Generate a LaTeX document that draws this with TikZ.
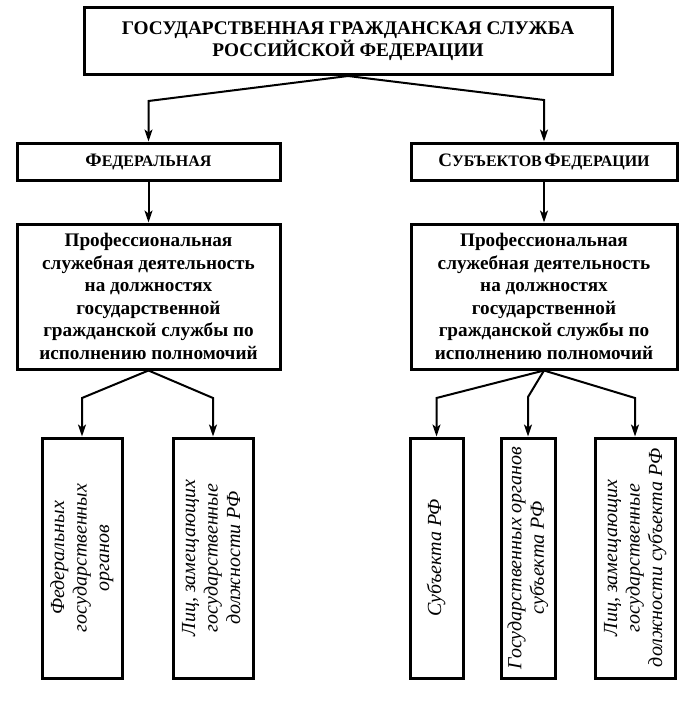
\documentclass[tikz,border=0pt]{standalone}
\usepackage{fontspec,graphicx}
\setmainfont{Liberation Serif}
\usetikzlibrary{arrows.meta}
\newcommand{\fakesc}[2]{{\fontsize{19}{21}\selectfont #1}{\fontsize{16}{19}\selectfont #2}}
\newcommand{\vtext}[1]{\rotatebox{90}{\begin{tabular}{@{}c@{}}#1\end{tabular}}}

\begin{document}
\begin{tikzpicture}[x=1pt,y=-1pt,
		box/.style={draw,line width=3pt,inner sep=0pt,align=center},
		tall/.style={box,minimum height=240pt,font=\itshape\fontsize{20}{22.5}\selectfont},
		arr/.style={line width=2pt,-{Stealth[length=12pt,width=8pt,inset=3pt]}}]
		\useasboundingbox (0,0) rectangle (694,706);
		
		\node (gs) at (348,41) [box,minimum width=528pt,minimum height=67pt,font=\bfseries\fontsize{19.3}{22}\selectfont] {ГОСУДАРСТВЕННАЯ ГРАЖДАНСКАЯ СЛУЖБА\\РОССИЙСКОЙ ФЕДЕРАЦИИ};
		\node (fed) at (148.5,161.5) [box,minimum width=263pt,minimum height=37pt,font=\bfseries] {\fakesc{Ф}{ЕДЕРАЛЬНАЯ}};
		\node (sub) at (544,161.5) [box,minimum width=266pt,minimum height=37pt,font=\bfseries] {\fakesc{С}{УБЪЕКТОВ} \fakesc{Ф}{ЕДЕРАЦИИ}};
		\node (pf) at (148.5,296.5) [box,minimum width=263pt,minimum height=145pt,font=\bfseries\fontsize{19.2}{22.5}\selectfont] {Профессиональная\\служебная деятельность\\на должностях\\государственной\\гражданской службы по\\исполнению полномочий};
		\node (ps) at (544,296.5) [box,minimum width=266pt,minimum height=145pt,font=\bfseries\fontsize{19.2}{22.5}\selectfont] {Профессиональная\\служебная деятельность\\на должностях\\государственной\\гражданской службы по\\исполнению полномочий};
		
		\node (fo) at (82,558) [tall,minimum width=80pt] {\vtext{Федеральных\\государственных\\органов}};
		\node (fl) at (213,558) [tall,minimum width=80pt] {\vtext{Лиц, замещающих\\государственные\\должности РФ}};
		\node (sr) at (436.5,558) [tall,minimum width=53pt] {\vtext{Субъекта РФ}};
		\node (so) at (528,558) [tall,minimum width=54pt] {\vtext{Государственных органов\\субъекта РФ}};
		\node (sl) at (635,558) [tall,minimum width=80pt] {\vtext{Лиц, замещающих\\государственные\\должности субъекта РФ}};
		
		\coordinate (kf) at (148.5,101);
		\coordinate (ks) at (544,100);
		\coordinate (k1) at (82,398);
		\coordinate (k2) at (213,398);
		\coordinate (k3) at (436.5,398);
		\coordinate (k4) at (528,397);
		\coordinate (k5) at (635,398);
		
		\draw[arr] (gs.south)--(kf)--(fed.north);
		\draw[arr] (gs.south)--(ks)--(sub.north);
		\draw[arr] (fed.south)--(pf.north);
		\draw[arr] (sub.south)--(ps.north);
		\draw[arr] (pf.south)--(k1)--(fo.north);
		\draw[arr] (pf.south)--(k2)--(fl.north);
		\draw[arr] (ps.south)--(k3)--(sr.north);
		\draw[arr] (ps.south)--(k4)--(so.north);
		\draw[arr] (ps.south)--(k5)--(sl.north);
	\end{tikzpicture}
\end{document}
